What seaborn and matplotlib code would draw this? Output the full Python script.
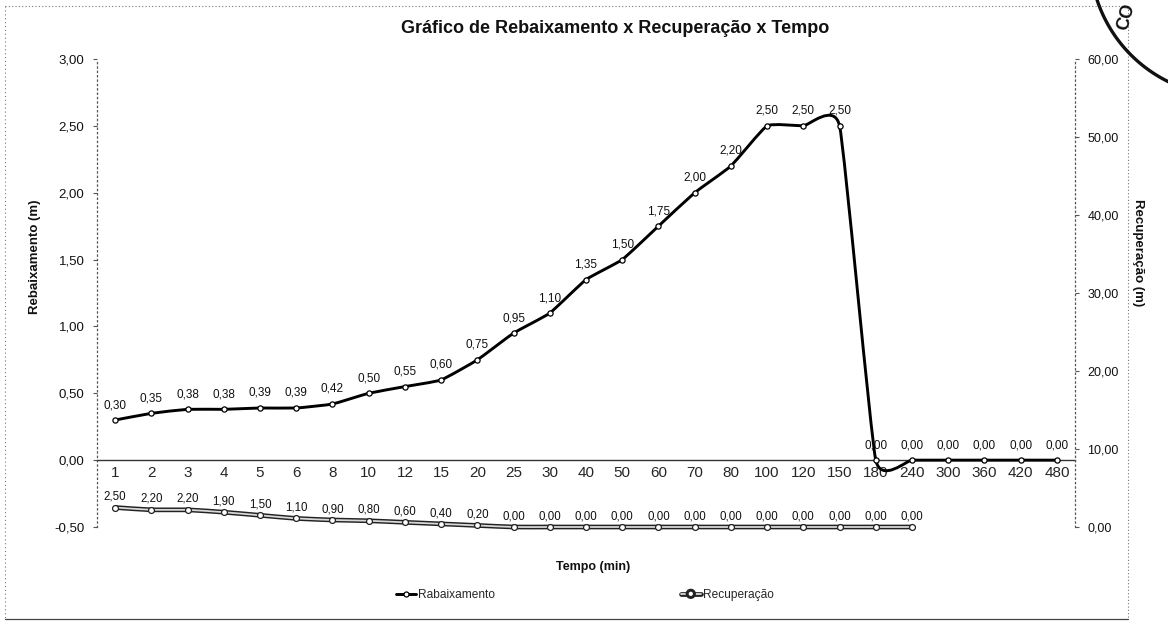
import numpy as np
import pandas as pd
import matplotlib
matplotlib.use("Agg")
import matplotlib.pyplot as plt
import seaborn as sns
import matplotlib.patheffects as pe
from matplotlib.path import Path
from matplotlib.patches import PathPatch
from matplotlib.lines import Line2D
from matplotlib.ticker import FuncFormatter

# --- data -------------------------------------------------------------
tempo = ["1", "2", "3", "4", "5", "6", "8", "10", "12", "15", "20", "25", "30",
         "40", "50", "60", "70", "80", "100", "120", "150", "180", "240", "300",
         "360", "420", "480"]
rebaixamento = [0.30, 0.35, 0.38, 0.38, 0.39, 0.39, 0.42, 0.50, 0.55, 0.60,
                0.75, 0.95, 1.10, 1.35, 1.50, 1.75, 2.00, 2.20, 2.50, 2.50,
                2.50, 0.00, 0.00, 0.00, 0.00, 0.00, 0.00]
recuperacao = [2.50, 2.20, 2.20, 1.90, 1.50, 1.10, 0.90, 0.80, 0.60, 0.40,
               0.20, 0.00, 0.00, 0.00, 0.00, 0.00, 0.00, 0.00, 0.00, 0.00,
               0.00, 0.00, 0.00]
ticks_rebaix = [-0.50, 0.00, 0.50, 1.00, 1.50, 2.00, 2.50, 3.00]
ticks_recup = [0, 10, 20, 30, 40, 50, 60]

df_reb = pd.DataFrame({"pos": np.arange(len(rebaixamento)),
                       "Tempo": tempo[:len(rebaixamento)],
                       "Rebaixamento": rebaixamento})
df_rec = pd.DataFrame({"pos": np.arange(len(recuperacao)),
                       "Tempo": tempo[:len(recuperacao)],
                       "Recuperacao": recuperacao})

# --- style ------------------------------------------------------------
sns.set_theme(style="white")
plt.rcParams["font.family"] = ["Liberation Sans", "DejaVu Sans"]
plt.rcParams["axes.unicode_minus"] = False

W, H = 1168, 629
fig = plt.figure(figsize=(W / 100, H / 100), dpi=100)
fig.patch.set_facecolor("white")


def fx(px):
    return px / W


def fy(py):
    return 1 - py / H


def comma(v, _=None):
    return f"{v:.2f}".replace(".", ",")


def smooth_path(xs, ys, k=1 / 14):
    """Bezier path through the points (spreadsheet-style smoothed line)."""
    pts = np.column_stack([xs, ys]).astype(float)
    n = len(pts)
    verts = [pts[0]]
    codes = [Path.MOVETO]
    for i in range(n - 1):
        p0 = pts[i - 1] if i > 0 else pts[i]
        p1, p2 = pts[i], pts[i + 1]
        p3 = pts[i + 2] if i + 2 < n else pts[i + 1]
        verts += [p1 + (p2 - p0) * k, p2 - (p3 - p1) * k, p2]
        codes += [Path.CURVE4] * 3
    return Path(verts, codes)


LEFT, RIGHT, TOP, BOTTOM = 97, 1075, 59, 527
ax = fig.add_axes([fx(LEFT), fy(BOTTOM), (RIGHT - LEFT) / W, (BOTTOM - TOP) / H])
ax2 = ax.twinx()
for a in (ax, ax2):
    a.set_facecolor("none")

# --- Rebaixamento (primary axis) ---------------------------------------
ax.add_patch(PathPatch(smooth_path(df_reb["pos"], df_reb["Rebaixamento"]),
                       fill=False, edgecolor="black", lw=2.1, zorder=3,
                       capstyle="round", joinstyle="round"))
sns.scatterplot(data=df_reb, x="pos", y="Rebaixamento", ax=ax, marker="o",
                s=14, color="white", edgecolor="black", linewidth=0.9,
                zorder=4, legend=False)
for x, v in zip(df_reb["pos"], df_reb["Rebaixamento"]):
    ax.annotate(comma(v), (x, v), xytext=(0, 6.5), textcoords="offset points",
                ha="center", va="bottom", fontsize=8.5, color="#111")

# --- Recuperação (secondary axis) --------------------------------------
band = [pe.Stroke(linewidth=3.4, foreground="#222"), pe.Normal()]
rec_patch = PathPatch(smooth_path(df_rec["pos"], df_rec["Recuperacao"]),
                      fill=False, edgecolor="#d8d8d8", lw=1.3, zorder=3,
                      clip_on=False)
rec_patch.set_path_effects(band)
ax2.add_patch(rec_patch)
sns.scatterplot(data=df_rec, x="pos", y="Recuperacao", ax=ax2, marker="o",
                s=18, color="white", edgecolor="#222", linewidth=0.9,
                zorder=4, legend=False, clip_on=False)
for x, v in zip(df_rec["pos"], df_rec["Recuperacao"]):
    ax2.annotate(comma(v), (x, v), xytext=(0, 3.5), textcoords="offset points",
                 ha="center", va="bottom", fontsize=8.3, color="#111")

# --- axes ------------------------------------------------------------
ax.set_xlim(-0.5, len(tempo) - 0.5)
ax.set_ylim(ticks_rebaix[0], ticks_rebaix[-1])
ax2.set_ylim(ticks_recup[0], ticks_recup[-1])

ax.set_xticks(np.arange(len(tempo)))
ax.set_xticklabels(tempo, fontsize=9.5, color="#111")
ax.spines["bottom"].set_position(("data", 0))
ax.spines["bottom"].set_color("#333")
ax.spines["bottom"].set_linewidth(1.0)
ax.tick_params(axis="x", length=0, pad=4)

ax.set_yticks(ticks_rebaix)
ax.yaxis.set_major_formatter(FuncFormatter(comma))
ax.tick_params(axis="y", left=True, length=3, width=0.8, color="#555",
               pad=6, labelsize=9.5, labelcolor="#111")
ax.spines["left"].set_linestyle((0, (1, 2.5)))
ax.spines["left"].set_color("#555")
ax.spines["left"].set_linewidth(0.9)
ax.spines["top"].set_visible(False)
ax.spines["right"].set_visible(False)

ax2.set_yticks(ticks_recup)
ax2.yaxis.set_major_formatter(FuncFormatter(comma))
ax2.tick_params(axis="y", right=True, length=3, width=0.8, color="#555",
                pad=6, labelsize=9, labelcolor="#111")
ax2.spines["right"].set_linestyle((0, (1, 2.5)))
ax2.spines["right"].set_color("#555")
ax2.spines["right"].set_linewidth(0.9)
for s in ("top", "bottom", "left"):
    ax2.spines[s].set_visible(False)

ax.set_xlabel("")
ax.set_ylabel("")
ax2.set_ylabel("")

# --- titles ---------------------------------------------------------
fig.text(fx(615), fy(28.5), "Gráfico de Rebaixamento x Recuperação x Tempo",
         ha="center", va="center", fontsize=13, fontweight="bold", color="#111")
fig.text(fx(35), fy(257), "Rebaixamento (m)", rotation=90, ha="center",
         va="center", fontsize=9.5, fontweight="bold", color="#111")
fig.text(fx(1138), fy(253), "Recuperação (m)", rotation=270, ha="center",
         va="center", fontsize=9.5, fontweight="bold", color="#111")
fig.text(fx(593), fy(567), "Tempo (min)", ha="center", va="center",
         fontsize=9, fontweight="bold", color="#111")

# --- legend ---------------------------------------------------------
h_reb = Line2D([], [], color="black", lw=2.1, marker="o", markersize=3.6,
               markerfacecolor="white", markeredgecolor="black",
               markeredgewidth=0.9)
h_rec = Line2D([], [], color="#d8d8d8", lw=1.3, marker="o", markersize=4,
               markerfacecolor="white", markeredgecolor="#222",
               markeredgewidth=0.9, path_effects=band)
fig.legend([h_reb, h_rec], ["Rabaixamento", "Recuperação"], loc="center",
           bbox_to_anchor=(fx(585), fy(595)), ncol=2, frameon=False,
           fontsize=8.6, handlelength=1.7, handletextpad=0.2,
           columnspacing=15.5)

# --- chart frame and stamp -------------------------------------------
ov = fig.add_axes([0, 0, 1, 1], zorder=10)
ov.set_xlim(0, W)
ov.set_ylim(H, 0)
ov.axis("off")
ov.patch.set_alpha(0)
ov.plot([5, 1128], [6, 6], ls=(0, (1, 2)), color="#777", lw=0.8)
ov.plot([5, 5], [6, 619], ls=(0, (1, 2.5)), color="#777", lw=0.8)
ov.plot([5, 1128], [619, 619], color="#444", lw=0.9)
ov.plot([1128, 1128], [6, 619], ls=(0, (1, 2)), color="#777", lw=0.8)

theta = np.linspace(np.deg2rad(100), np.deg2rad(165), 80)
ov.plot(1230 + 140 * np.cos(theta), -44 + 140 * np.sin(theta), color="#111",
        lw=2.4, solid_capstyle="round")
ov.text(1126, 17, "CO", rotation=75, ha="center", va="center", fontsize=13,
        fontweight="bold", color="#111")

fig.savefig("out.png", dpi=100, facecolor="white")
